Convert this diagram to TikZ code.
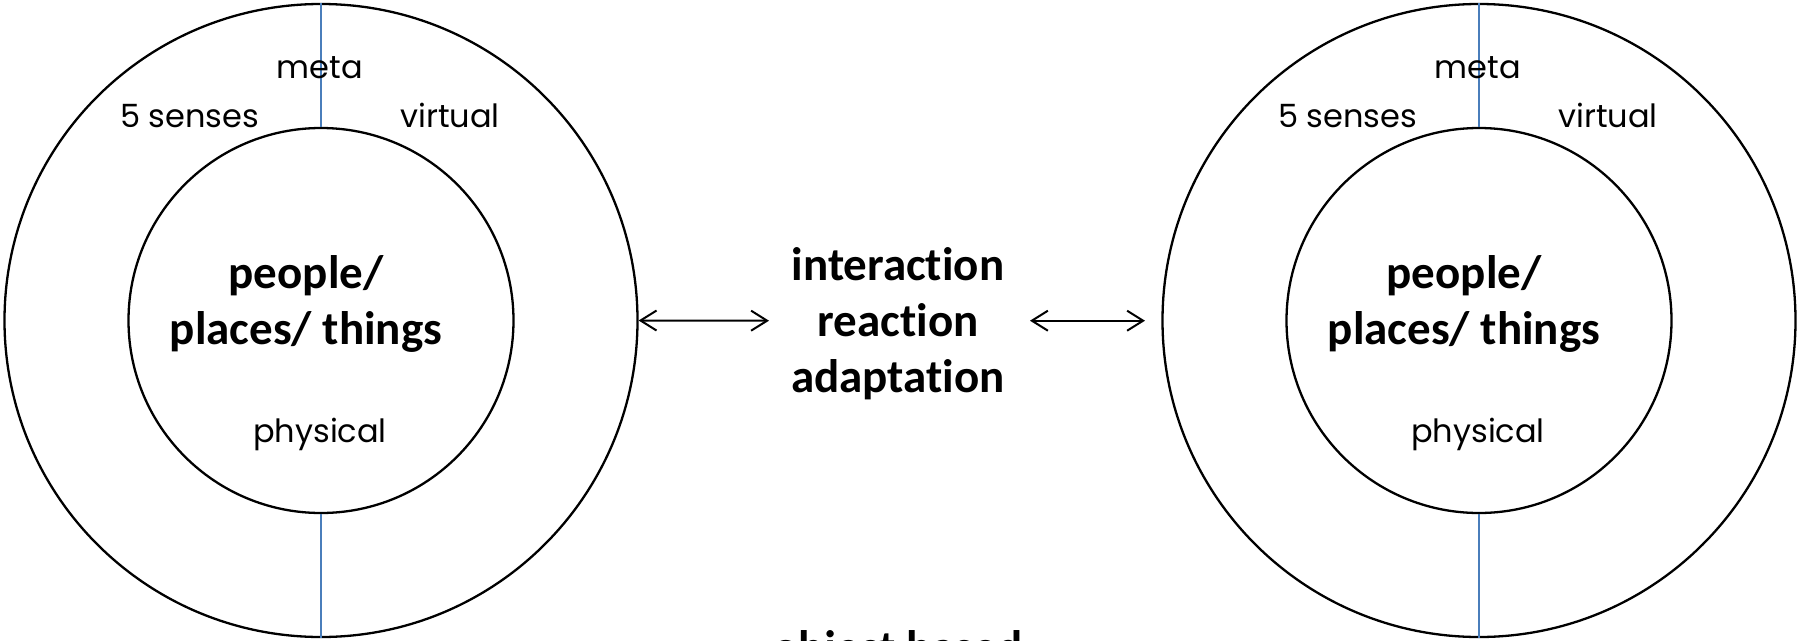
\documentclass[tikz,border=0pt]{standalone}
\usepackage{fontspec}
\newfontfamily\boldfont{Carlito}[Ligatures=NoCommon]
\newfontfamily\handfont{Poppins}
\usetikzlibrary{arrows.meta}
\definecolor{divblue}{RGB}{74,126,187}
\begin{document}
\begin{tikzpicture}[x=1pt,y=-1pt,
  outerring/.style={circle,draw,line width=2.3pt,inner sep=0pt,minimum size=633pt},
  innerring/.style={circle,draw,line width=2.3pt,inner sep=0pt,minimum size=385pt},
  divider/.style={draw=divblue,line width=2.3pt},
  biarrow/.style={line width=2pt,{Straight Barb[length=16pt,width=20pt]}-{Straight Barb[length=16pt,width=20pt]}},
  bigtext/.style={font=\boldfont\bfseries\fontsize{47}{56}\selectfont,align=center,inner sep=0pt},
  hand/.style={font=\handfont\fontsize{32}{38}\selectfont,inner sep=0pt,anchor=base}]
\clip (0,0) rectangle (1799,640);
% left ring
\node[outerring] (L) at (321,320.5) {};
\node[innerring] (Li) at (321,320.5) {};
\draw[divider] (L.north) -- (Li.north);
\draw[divider] (Li.south) -- (L.south);
\node[bigtext] (Lt) at (306,304) {people/\\places/ things};
\node[hand] (Lmeta) at (320,78) {meta};
\node[hand] (Lsen) at (189.5,127) {5 senses};
\node[hand] (Lvir) at (450,127) {virtual};
\node[hand] (Lphy) at (320,442) {physical};
% right ring
\node[outerring] (R) at (1479,320.5) {};
\node[innerring] (Ri) at (1479,320.5) {};
\draw[divider] (R.north) -- (Ri.north);
\draw[divider] (Ri.south) -- (R.south);
\node[bigtext] (Rt) at (1464,304) {people/\\places/ things};
\node[hand] (Rmeta) at (1478,78) {meta};
\node[hand] (Rsen) at (1347.5,127) {5 senses};
\node[hand] (Rvir) at (1608,127) {virtual};
\node[hand] (Rphy) at (1478,442) {physical};
% middle
\node[bigtext] (mid) at (898,324) {interaction\\reaction\\adaptation};
\coordinate (a1) at (769,320.7);
\coordinate (a2s) at (1030,320.7);
\coordinate (a2e) at (1145,320.7);
\draw[biarrow] (L.east) -- (a1);
\draw[biarrow] (a2s) -- (a2e);
\node[bigtext,anchor=base] (obj) at (898,663) {object based};
\end{tikzpicture}
\end{document}
